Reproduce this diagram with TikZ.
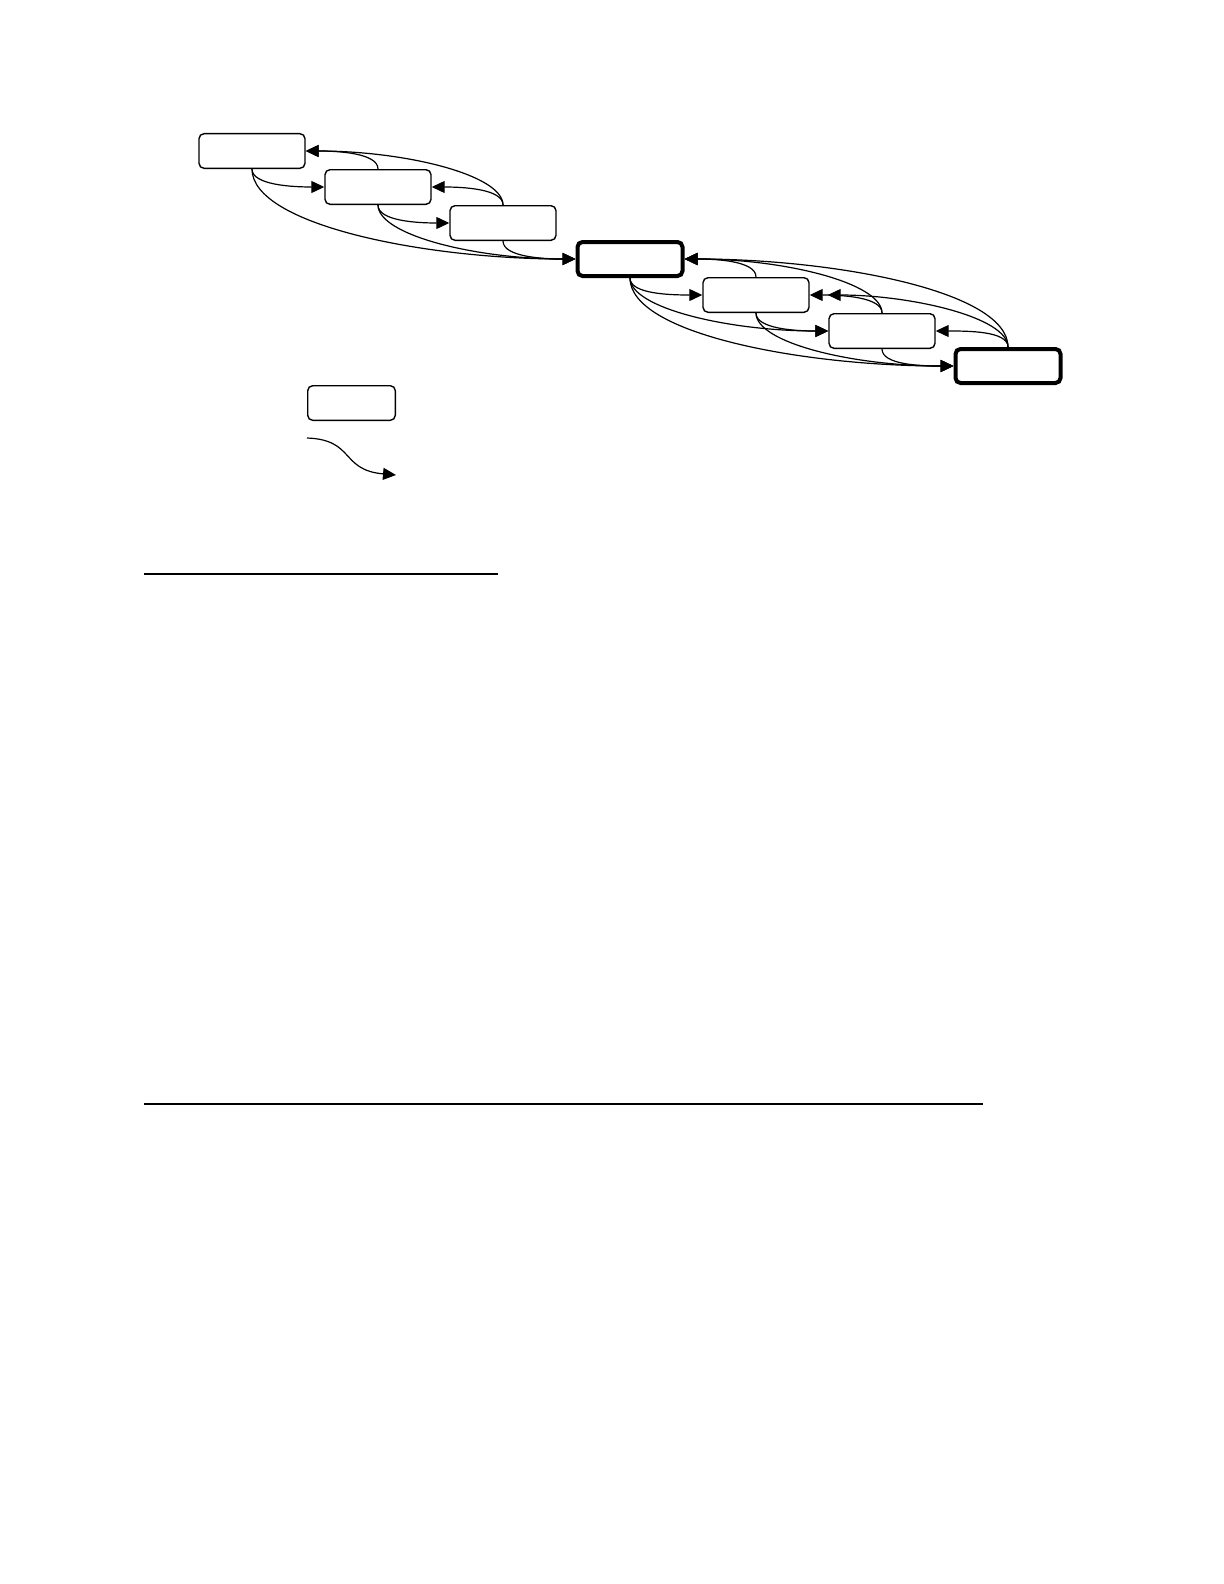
\documentclass[tikz,border=0pt]{standalone}
\usetikzlibrary{arrows.meta}
\begin{document}
\begin{tikzpicture}[x=0.5pt, y=-0.5pt,
	box/.style={draw, rounded corners=2.5pt, line width=0.7pt, minimum width=53pt, minimum height=17.3pt, inner sep=0pt},
	bigbox/.style={box, line width=2pt, minimum width=52.5pt, minimum height=17pt},
	link/.style={line width=0.6pt, -{Triangle[length=6.5pt,width=6pt]}},
	fwd/.style={link, out=-90, in=180, out distance=8pt, in distance=16pt},
	back/.style={link, out=90, in=0, out distance=8pt, in distance=16pt},
	two/.style={out distance=15pt, in distance=50pt},
	three/.style={out distance=28pt, in distance=75pt},
	rule/.style={line width=1pt}]
	\useasboundingbox (0,0) rectangle (1224,1584);

	%% states
	\node[box] (s1) at (252,151) {};
	\node[box] (s2) at (378,187) {};
	\node[box] (s3) at (503,223) {};
	\node[bigbox] (s4) at (630,259) {};
	\node[box] (s5) at (756,295) {};
	\node[box] (s6) at (882,331) {};
	\node[bigbox] (s7) at (1008,366) {};

	%% first group, forward
	\draw[fwd] (s1.south) to (s2.west);
	\draw[fwd, three] (s1.south) to (s4.west);
	\draw[fwd] (s2.south) to (s3.west);
	\draw[fwd, two] (s2.south) to (s4.west);
	\draw[fwd] (s3.south) to (s4.west);
	%% first group, back
	\draw[back] (s2.north) to (s1.east);
	\draw[back, two] (s3.north) to (s1.east);
	\draw[back] (s3.north) to (s2.east);

	%% second group, forward
	\draw[fwd] (s4.south) to (s5.west);
	\draw[fwd, two] (s4.south) to (s6.west);
	\draw[fwd, three] (s4.south) to (s7.west);
	\draw[fwd] (s5.south) to (s6.west);
	\draw[fwd, two] (s5.south) to (s7.west);
	\draw[fwd] (s6.south) to (s7.west);
	%% second group, back
	\draw[back] (s5.north) to (s4.east);
	\draw[back, two] (s6.north) to (s4.east);
	\draw[back] (s6.north) to (s5.east);
	\draw[back, three] (s7.north) to (s4.east);
	\draw[back, two, shorten >=9pt] (s7.north) to (s5.east);
	\draw[back] (s7.north) to (s6.east);

	%% legend
	\node[box, minimum width=43.8pt] (key) at (351.5,403) {};
	\coordinate (keyA) at (307,438);
	\coordinate (keyB) at (396,475);
	\draw[link] (keyA) to[out=-2, in=175, out distance=24pt, in distance=28pt] (keyB);

	%% rules
	\coordinate (r1a) at (144,574);
	\coordinate (r1b) at (498,574);
	\coordinate (r2a) at (144,1104);
	\coordinate (r2b) at (983,1104);
	\draw[rule] (r1a) -- (r1b);
	\draw[rule] (r2a) -- (r2b);
\end{tikzpicture}
\end{document}
